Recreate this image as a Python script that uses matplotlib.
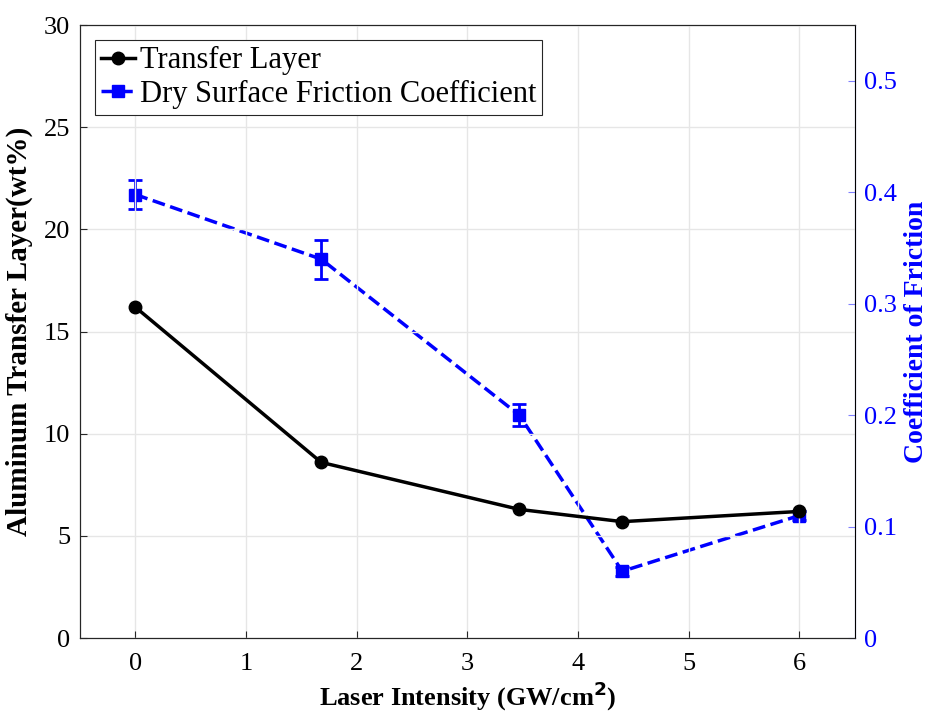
import numpy as np
import matplotlib.pyplot as plt

plt.rcParams['font.family'] = ['Liberation Serif', 'DejaVu Serif']

# laser intensity (GW/cm^2)
intensity = [0, 1.68, 3.47, 4.4, 6.0]
# aluminum transfer layer (wt%)
transfer = [16.2, 8.6, 6.3, 5.7, 6.2]
# dry friction coefficient and its spread
friction = [0.398, 0.340, 0.200, 0.060, 0.110]
friction_err = [0.013, 0.0175, 0.010, 0.004, 0.004]

fig, ax = plt.subplots(figsize=(9.3, 7.17), dpi=100)
fig.subplots_adjust(left=0.086, right=0.919, top=0.965, bottom=0.11)

ax.plot(intensity, transfer, '-o', color='black', lw=2.5, ms=9,
        label='Transfer Layer')
ax.set_xlim(-0.5, 6.5)
ax.set_ylim(0, 30)
ax.set_xticks(range(0, 7))
ax.set_yticks(range(0, 31, 5))
ax.grid(True, color='#e6e6e6', lw=1)
ax.set_axisbelow(True)
ax.tick_params(direction='in', labelsize=19, length=5, colors='#262626',
               labelcolor='black', pad=7)
ax.tick_params(axis='x', pad=11)
for side in ['left', 'bottom', 'top']:
    ax.spines[side].set_color('#262626')
ax.set_xlabel(r'Laser Intensity (GW/cm$^{\mathbf{2}}$)', fontsize=19,
              fontweight='bold', labelpad=3)
ax.set_ylabel('Aluminum Transfer Layer(wt%)', fontsize=21,
              fontweight='bold', labelpad=8)

ax2 = ax.twinx()
ax2.errorbar(intensity, friction, yerr=friction_err, fmt='none', ecolor='blue',
             elinewidth=2, capsize=5, capthick=2)
ax2.plot(intensity, friction, '--s', color='blue', lw=2.5, ms=8,
         label='Dry Surface Friction Coefficient')
ax2.set_ylim(0, 0.55)
ax2.set_yticks([0, 0.1, 0.2, 0.3, 0.4, 0.5])
ax2.set_yticklabels(['0', '0.1', '0.2', '0.3', '0.4', '0.5'])
ax2.tick_params(direction='in', labelsize=19, length=5, colors='#8080ff',
                labelcolor='blue', pad=7)
ax2.spines['right'].set_color('#8080ff')
ax2.set_ylabel('Coefficient of Friction', fontsize=20, fontweight='bold',
               color='blue', labelpad=5)

h1, l1 = ax.get_legend_handles_labels()
h2, l2 = ax2.get_legend_handles_labels()
leg = ax.legend(h1 + h2, l1 + l2, loc='upper left', fontsize=22,
                fancybox=False, edgecolor='#262626', handlelength=1.1,
                handletextpad=0.15, borderpad=0.2, labelspacing=0.15,
                borderaxespad=0.5, framealpha=1)
leg.get_frame().set_linewidth(0.8)
ax.set_zorder(ax2.get_zorder() + 1)
ax.patch.set_visible(False)

fig.savefig('out.png', dpi=100)
